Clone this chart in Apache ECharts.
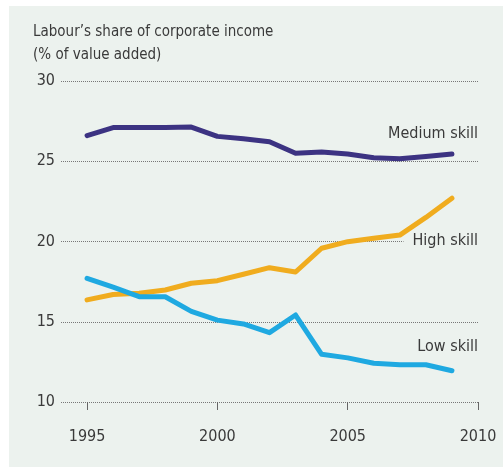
<!DOCTYPE html>
<html>
<head>
<meta charset="utf-8">
<script src="https://cdn.jsdelivr.net/npm/echarts@6/dist/echarts.min.js"></script>
<style>
  html, body { margin: 0; padding: 0; background: #fff; }
  #main { width: 503px; height: 467px; }
</style>
</head>
<body>
<div id="main"></div>
<script>
var years = [1995, 1996, 1997, 1998, 1999, 2000, 2001, 2002, 2003, 2004, 2005, 2006, 2007, 2008, 2009];
var mediumSkill = [26.6, 27.1, 27.1, 27.1, 27.13, 26.55, 26.4, 26.22, 25.5, 25.58, 25.45, 25.22, 25.15, 25.3, 25.45];
var highSkill = [16.36, 16.7, 16.78, 16.98, 17.4, 17.56, 17.96, 18.37, 18.1, 19.58, 19.99, 20.2, 20.4, 21.5, 22.7];
var lowSkill = [17.7, 17.15, 16.56, 16.56, 15.65, 15.1, 14.86, 14.32, 15.42, 12.97, 12.75, 12.41, 12.32, 12.32, 11.95];
var xTicks = [1995, 2000, 2005, 2010];

var font = "'Liberation Sans Narrow', 'DejaVu Sans Condensed', sans-serif";
var panel = '#ECF2EE';
var textColor = '#3a3a3a';

function pairs(vals) {
    return years.map(function (y, i) { return [y, vals[i]]; });
}

var myChart = echarts.init(document.getElementById('main'));
var option = {
    backgroundColor: '#fff',
    animation: false,
    graphic: [
        { type: 'rect', left: 9, top: 6, shape: { width: 494, height: 461 }, style: { fill: panel }, z: -10 },
        { type: 'text', left: 33, top: 25, style: { text: 'Labour\u2019s share of corporate income', font: '15px ' + font, fill: textColor } },
        { type: 'text', left: 33, top: 48, style: { text: '(% of value added)', font: '15px ' + font, fill: textColor } },
        { type: 'text', right: 25, top: 126, z: 1, style: { text: 'Medium skill', font: '16px ' + font, fill: textColor } },
        { type: 'text', right: 25, top: 233, z: 1, style: { text: 'High skill', font: '16px ' + font, fill: textColor, backgroundColor: panel, padding: [0, 0, 0, 9] } },
        { type: 'text', right: 25, top: 339, z: 1, style: { text: 'Low skill', font: '16px ' + font, fill: textColor } }
    ],
    grid: { left: 61, right: 25, top: 81, bottom: 65 },
    xAxis: {
        type: 'value',
        min: 1994,
        max: 2010,
        axisLine: { show: false },
        splitLine: { show: false },
        axisTick: { show: true, customValues: xTicks, length: 8, lineStyle: { color: '#666' } },
        axisLabel: {
            customValues: xTicks, margin: 27, fontSize: 16, fontFamily: font, color: textColor,
            formatter: function (v) { return String(v); }
        }
    },
    yAxis: {
        type: 'value',
        min: 10,
        max: 30,
        interval: 5,
        axisLine: { show: false },
        axisTick: { show: false },
        axisLabel: { margin: 6, fontSize: 16, fontFamily: font, color: textColor },
        splitLine: { lineStyle: { color: '#777', type: [1, 1], width: 1 } }
    },
    series: [
        { name: 'Medium skill', type: 'line', data: pairs(mediumSkill), symbol: 'none', lineStyle: { width: 5, color: '#3C3382', cap: 'round', join: 'round' } },
        { name: 'High skill', type: 'line', data: pairs(highSkill), symbol: 'none', lineStyle: { width: 5, color: '#F0AC1E', cap: 'round', join: 'round' } },
        { name: 'Low skill', type: 'line', data: pairs(lowSkill), symbol: 'none', lineStyle: { width: 5, color: '#1FA9E1', cap: 'round', join: 'round' } }
    ]
};
myChart.setOption(option);
</script>
</body>
</html>
